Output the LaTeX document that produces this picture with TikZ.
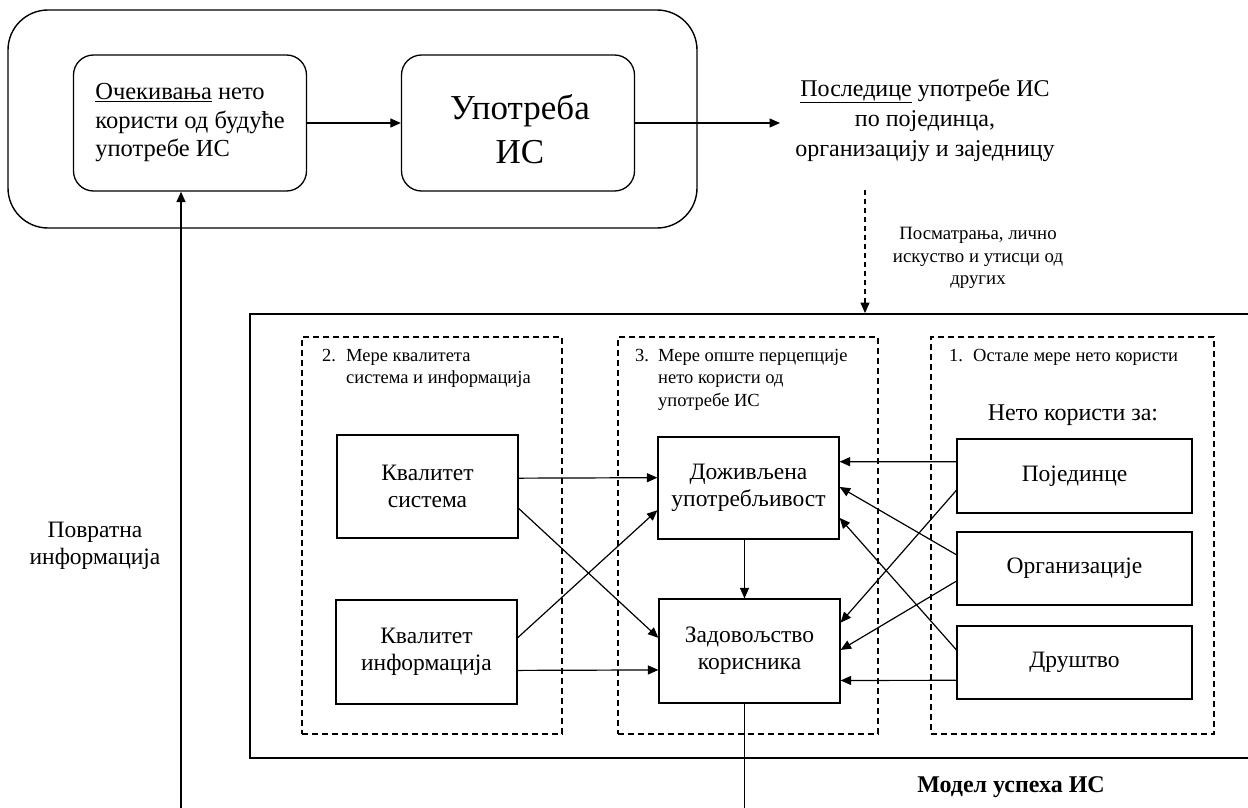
\documentclass[tikz,border=0pt]{standalone}
\usepackage{fontspec}
\setmainfont{Liberation Serif}
\usetikzlibrary{arrows.meta,calc}
\newcommand\fsz[2]{\fontsize{#1}{#2}\selectfont}
\tikzset{
  rbox/.style={draw, line width=1.3pt, rounded corners=20pt, minimum width=233pt, minimum height=136pt, align=center},
  sbox/.style={draw, line width=1.2pt, minimum width=181pt, minimum height=103pt, align=center, font=\fsz{23.5}{27}},
  obox/.style={draw, line width=1.2pt, minimum width=235pt, minimum height=73pt, align=center, font=\fsz{23.5}{27}},
  dbox/.style={draw, dashed, dash pattern=on 6pt off 4pt, line width=1.4pt, minimum width=260pt, minimum height=397pt},
  lab/.style={anchor=north west, inner sep=0pt, align=left, font=\fsz{18.5}{22.5}},
  arr/.style={-{Triangle[length=10.5pt,width=9pt]}, line width=1.2pt},
  plain/.style={inner sep=0pt, align=center}
}
\begin{document}
\begin{tikzpicture}[x=1pt,y=-1pt]
\useasboundingbox (0,0) rectangle (1248,808);
% top group
\node[draw, line width=1.4pt, rounded corners=40pt, minimum width=689pt, minimum height=218pt] (outer) at (352.5,119) {};
\node[rbox, align=left, font=\fsz{24.5}{28.5}] (ocek) at (190,123) {\underline{Очекивања} нето\\користи од будуће\\употребе ИС};
\node[rbox] (upotr) at (518,123) {};
\node[plain, font=\fsz{35}{44}] (upotrt) at (520,129) {Употреба\\ИС};
\draw[arr] (ocek) -- (upotr);
\node[plain, font=\fsz{24}{30}] (posl) at (925,120) {\underline{Последице} употребе ИС\\по појединца,\\организацију и заједницу};
\draw[arr] (upotr.east) -- (upotr.east -| {780,0});
\node[plain, font=\fsz{18.8}{22.5}] (posm) at (978,258) {Посматрања, лично\\искуство и утисци од\\других};
% model rectangle
\node[draw, line width=1.8pt, minimum width=1000pt, minimum height=444pt] (model) at (750,536) {};
\coordinate (dtop) at (865,190);
\draw[arr, dashed, dash pattern=on 5pt off 4pt] (dtop) -- (dtop |- model.north);
% dashed groups
\node[dbox] (d2) at (432,535.5) {};
\node[dbox] (d3) at (748,535.5) {};
\node[dbox, minimum width=283pt] (d1) at (1072.5,535.5) {};
\node[lab] (l2) at (322,349) {\makebox[24pt][l]{2.}Мере квалитета\\\hspace*{24pt}система и информација};
\node[lab] (l3) at (635,349) {\makebox[23pt][l]{3.}Мере опште перцепције\\\hspace*{23pt}нето користи од\\\hspace*{23pt}употребе ИС};
\node[lab] (l1) at (949,349) {\makebox[24pt][l]{1.}Остале мере нето користи};
\node[plain, font=\fsz{24}{27}] (nk) at (1073,415) {Нето користи за:};
% boxes
\node[sbox] (ks) at (427.5,486.5) {Квалитет\\система};
\node[sbox, minimum height=104pt] (ki) at (426.5,652) {Квалитет\\информација};
\node[sbox, minimum height=102pt] (dz) at (748.5,488) {Доживљена\\употребљивост};
\node[sbox, minimum height=104pt] (zk) at (749.5,651) {Задовољство\\корисника};
\node[obox, minimum height=74pt] (pj) at (1074.5,476) {Појединце};
\node[obox] (org) at (1074.5,568.5) {Организације};
\node[obox] (dr) at (1074.5,662.5) {Друштво};
% arrows left
\draw[arr] ($(ks.north east)!0.42!(ks.south east)$) -- ($(dz.north west)!0.40!(dz.south west)$);
\draw[arr] ($(ks.north east)!0.71!(ks.south east)$) -- ($(zk.north west)!0.375!(zk.south west)$);
\draw[arr] ($(ki.north east)!0.365!(ki.south east)$) -- ($(dz.north west)!0.715!(dz.south west)$);
\draw[arr] ($(ki.north east)!0.675!(ki.south east)$) -- ($(zk.north west)!0.68!(zk.south west)$);
\draw[arr] ([xshift=-4pt]dz.south) -- ([xshift=-4pt]dz.south |- zk.north);
% arrows right
\draw[arr] ($(pj.north west)!0.31!(pj.south west)$) -- ($(dz.north east)!0.245!(dz.south east)$);
\draw[arr] ($(pj.north west)!0.69!(pj.south west)$) -- ($(zk.north east)!0.23!(zk.south east)$);
\draw[arr] ($(org.north west)!0.315!(org.south west)$) -- ($(dz.north east)!0.49!(dz.south east)$);
\draw[arr] ($(org.north west)!0.67!(org.south west)$) -- ($(zk.north east)!0.49!(zk.south east)$);
\draw[arr] ($(dr.north west)!0.33!(dr.south west)$) -- ($(dz.north east)!0.79!(dz.south east)$);
\draw[arr] ($(dr.north west)!0.74!(dr.south west)$) -- ($(zk.north east)!0.78!(zk.south east)$);
% feedback
\coordinate (fbb) at (181,812);
\draw[arr, line width=1.4pt] (fbb) -- (fbb |- ocek.south);
\draw[line width=1.1pt] ([xshift=-5pt]zk.south) -- ([xshift=-5pt]zk.south |- fbb);
\node[plain, font=\fsz{23.5}{27}] (povr) at (95,546) {Повратна\\информација};
\node[plain, font=\fsz{24}{28}\bfseries] (title) at (1011,787) {Модел успеха ИС};
\end{tikzpicture}
\end{document}
